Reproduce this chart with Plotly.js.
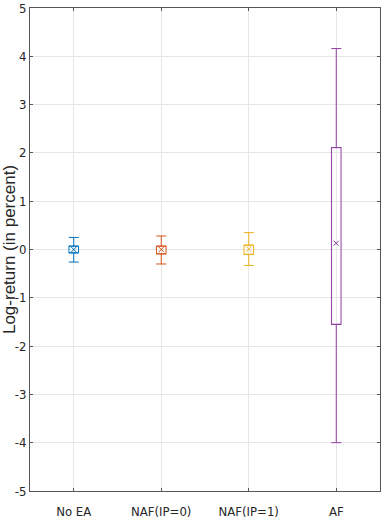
<!DOCTYPE html>
<html>
<head>
<meta charset="utf-8">
<script src="https://cdn.plot.ly/plotly-3.0.1.min.js"></script>
<style>
  html, body { margin: 0; padding: 0; background: #fff; }
  #chart { width: 381px; height: 523px; }
</style>
</head>
<body>
<div id="chart"></div>
<script>
// groups and their box statistics (log-return, in percent)
let groups = ["No EA", "NAF(IP=0)", "NAF(IP=1)", "AF"];
let upper = [0.25, 0.28, 0.35, 4.16];
let q3 = [0.07, 0.07, 0.09, 2.11];
let means = [0.0, 0.0, 0.01, 0.13];
let q1 = [-0.07, -0.09, -0.10, -1.55];
let lower = [-0.26, -0.30, -0.33, -4.0];
let colors = ['#0072BD', '#D95319', '#EDB120', '#8E3D9F'];

let y_ticks = [-5, -4, -3, -2, -1, 0, 1, 2, 3, 4, 5];
let y_labels = ["-5", "-4", "-3", "-2", "-1", "0", "1", "2", "3", "4", "5"];

let label_font = "'Liberation Sans Narrow', 'DejaVu Sans Condensed', Arial, sans-serif";

let data = [];

groups.forEach((g, i) => {
  // box from q1 to q3
  data.push({
    type: 'bar',
    x: [g],
    y: [q3[i] - q1[i]],
    base: [q1[i]],
    width: 0.11,
    marker: {
      color: 'rgba(0,0,0,0)',
      line: { color: colors[i], width: 1 }
    },
    hoverinfo: 'skip'
  });

  // whiskers
  data.push({
    type: 'scatter',
    mode: 'markers',
    x: [g, g],
    y: [q3[i], q1[i]],
    marker: { size: 1, color: 'rgba(0,0,0,0)' },
    error_y: {
      type: 'data',
      symmetric: false,
      array: [upper[i] - q3[i], 0],
      arrayminus: [0, q1[i] - lower[i]],
      color: colors[i],
      thickness: 1,
      width: 5
    },
    hoverinfo: 'skip'
  });

  // mean
  data.push({
    type: 'scatter',
    mode: 'markers',
    x: [g],
    y: [means[i]],
    marker: {
      symbol: 'x-thin-open',
      size: 5,
      color: colors[i],
      line: { color: colors[i], width: 1 }
    }
  });
});

let forme = {
  width: 381,
  height: 523,
  margin: { l: 30, r: 1, t: 8, b: 32 },
  paper_bgcolor: '#fff',
  plot_bgcolor: '#fff',
  showlegend: false,
  barmode: 'overlay',
  xaxis: {
    type: 'category',
    range: [-0.5, 3.5],
    showgrid: true,
    gridcolor: '#e6e6e6',
    showline: true,
    linecolor: '#555',
    linewidth: 1,
    mirror: 'ticks',
    ticks: 'inside',
    ticklen: 3,
    tickcolor: '#555',
    ticklabelstandoff: 8,
    tickfont: { family: label_font, size: 13, color: '#262626' }
  },
  yaxis: {
    range: [-5, 5],
    tickvals: y_ticks,
    ticktext: y_labels,
    ticklabeloverflow: 'allow',
    showgrid: true,
    gridcolor: '#e6e6e6',
    zeroline: false,
    showline: true,
    linecolor: '#555',
    linewidth: 1,
    mirror: 'ticks',
    ticks: 'inside',
    ticklen: 3,
    tickcolor: '#555',
    tickfont: { family: label_font, size: 13, color: '#262626' },
    title: {
      text: 'Log-return (in percent)',
      font: { family: "'Liberation Sans', Arial, sans-serif", size: 17, color: '#262626' },
      standoff: 4
    }
  }
};

Plotly.newPlot('chart', data, forme, { displayModeBar: false, staticPlot: true });
</script>
</body>
</html>
